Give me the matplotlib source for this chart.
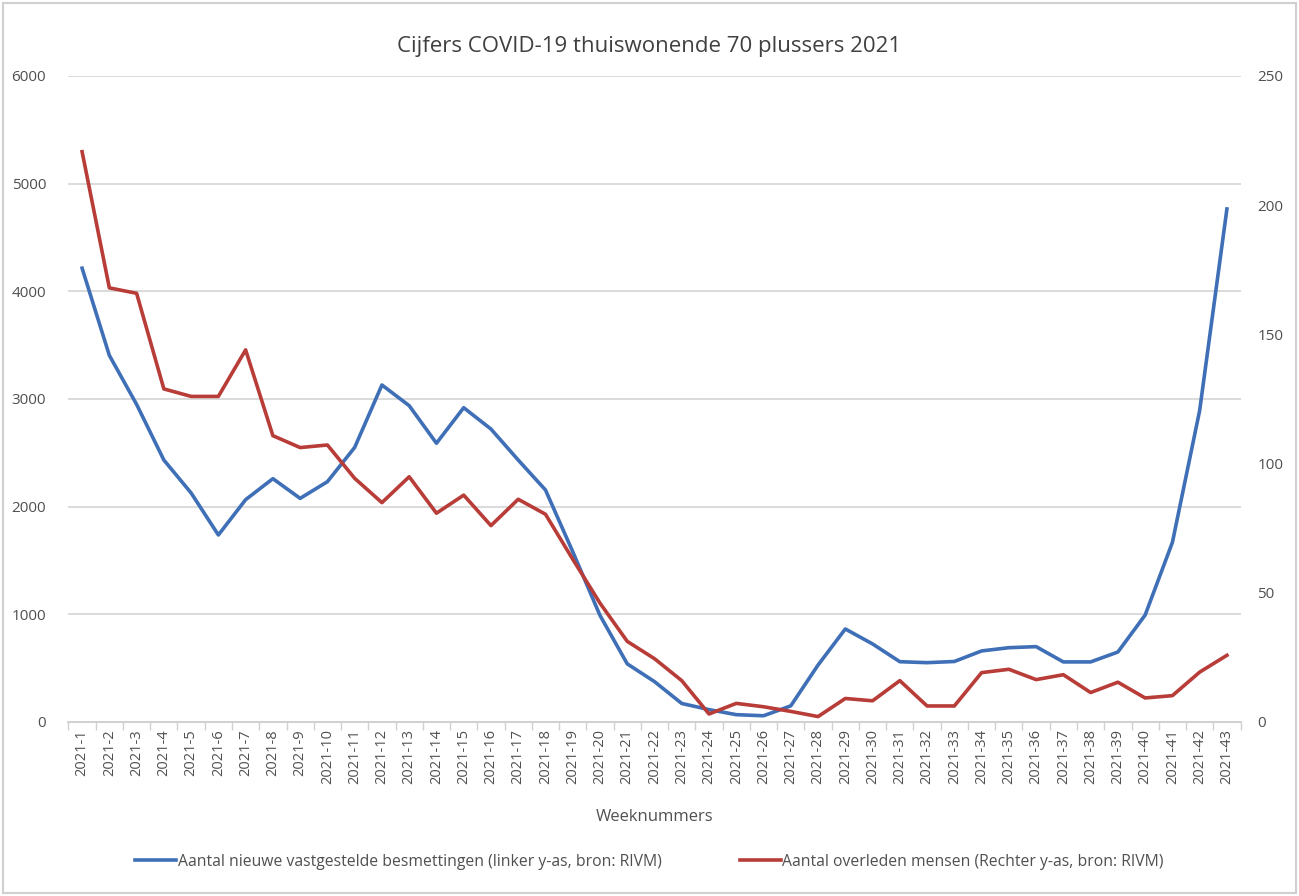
import matplotlib.pyplot as plt
from matplotlib.patches import Rectangle

plt.rcParams['font.family'] = ['Open Sans', 'DejaVu Sans']

# Data
weeks = ['2021-%d' % i for i in range(1, 44)]
besmettingen = [4215, 3405, 2950, 2433, 2127, 1737, 2065, 2260, 2077, 2232,
                2550, 3130, 2938, 2589, 2919, 2721, 2433, 2155, 1582, 990,
                540, 375, 172, 115, 68, 58, 150, 529, 864, 725,
                560, 551, 562, 660, 690, 700, 558, 558, 650, 993,
                1668, 2893, 4765]
overleden = [220.7, 168.0, 165.9, 128.9, 126.0, 126.0, 144.0, 110.8, 106.2, 107.2,
             94.3, 84.9, 94.9, 80.8, 87.8, 76.0, 86.2, 80.4, 63.0, 46.0,
             31.2, 24.5, 16.0, 3.1, 7.2, 5.9, 4.1, 2.1, 9.1, 8.2,
             16.0, 6.2, 6.2, 19.1, 20.4, 16.4, 18.3, 11.4, 15.4, 9.3,
             10.2, 19.3, 25.8]

blue = '#3f6fb6'
red = '#b83c38'
txt = '#505050'

fig = plt.figure(figsize=(12.99, 8.96), dpi=100)
ax = fig.add_axes([0.0527, 0.1942, 0.9023, 0.7210])
ax2 = ax.twinx()

x = list(range(len(weeks)))
l1, = ax.plot(x, besmettingen, color=blue, lw=2.6, solid_joinstyle='round',
              label='Aantal nieuwe vastgestelde besmettingen (linker y-as, bron: RIVM)')
l2, = ax2.plot(x, overleden, color=red, lw=2.6, solid_joinstyle='round',
               label='Aantal overleden mensen (Rechter y-as, bron: RIVM)')

ax.set_xlim(-0.5, len(weeks) - 0.5)
ax.set_ylim(0, 6000)
ax2.set_ylim(0, 250)
ax.set_yticks(range(0, 6001, 1000))
ax2.set_yticks(range(0, 251, 50))

ax.set_xticks(x)
ax.set_xticklabels(weeks, rotation=90, fontsize=10.5, color=txt)
ax.set_xticks([i - 0.5 for i in range(len(weeks) + 1)], minor=True)
ax.tick_params(axis='x', which='major', length=0, pad=5)
ax.tick_params(axis='x', which='minor', length=6, color='#d0d0d0', width=1)
ax.tick_params(axis='y', length=0, labelsize=11, labelcolor=txt, pad=16)
ax2.tick_params(axis='y', length=0, labelsize=11, labelcolor=txt, pad=12)

ax.grid(axis='y', color='#d4d4d4', lw=1.2)
ax.set_axisbelow(True)
for a in (ax, ax2):
    for s in ('left', 'right', 'top'):
        a.spines[s].set_visible(False)
    a.spines['bottom'].set_color('#d0d0d0')
    a.spines['bottom'].set_linewidth(1.2)

ax.set_xlabel('Weeknummers', fontsize=12, color=txt, labelpad=18)
fig.suptitle('Cijfers COVID-19 thuiswonende 70 plussers 2021', y=0.96,
             fontsize=16, color='#404040')

fig.legend(handles=[l1, l2], loc='center', bbox_to_anchor=(0.5, 0.038), ncol=2,
           frameon=False, fontsize=11.3, handlelength=2.6, handletextpad=0.1,
           columnspacing=5.0, labelcolor=txt)

# outer chart border
fig.add_artist(Rectangle((0.002, 0.003), 0.996, 0.994, transform=fig.transFigure,
                         fill=False, edgecolor='#d0d0d0', lw=1.5))

fig.savefig('out.png', dpi=100)
